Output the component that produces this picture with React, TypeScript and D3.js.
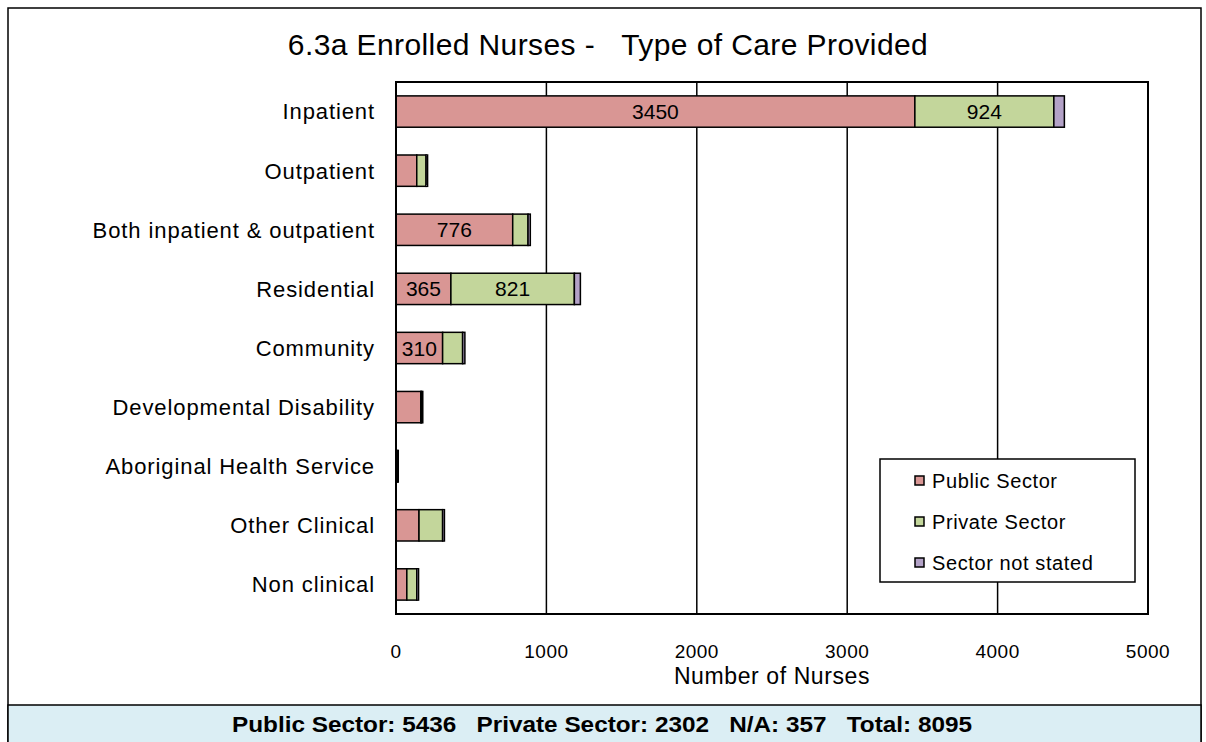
import * as d3 from "d3";

const categories = [
  "Inpatient",
  "Outpatient",
  "Both inpatient & outpatient",
  "Residential",
  "Community",
  "Developmental Disability",
  "Aboriginal Health Service",
  "Other Clinical",
  "Non clinical",
];
const publicSector = [3450, 138, 776, 365, 310, 165, 10, 153, 72];
const privateSector = [924, 62, 102, 821, 133, 5, 3, 157, 66];
const notStated = [70, 10, 15, 40, 15, 8, 2, 12, 12];
const seriesNames = ["Public Sector", "Private Sector", "Sector not stated"];
const xTicks = [0, 1000, 2000, 3000, 4000, 5000];
const footerText = "Public Sector: 5436   Private Sector: 2302   N/A: 357   Total: 8095";
const titleText = "6.3a Enrolled Nurses -   Type of Care Provided";

const colors = ["#d99694", "#c3d69b", "#b3a2c7"];
const font = "Arial, 'Liberation Sans', sans-serif";

const W = 1206;
const H = 742;
const plot = { left: 396, right: 1148, top: 82, bottom: 614 };

// keep runs of spaces visible in svg text
const keepSpaces = (s: string) => s.replace(/ {2,}/g, (m) => "\u00a0".repeat(m.length));

export default function App() {
  const x = d3.scaleLinear().domain([0, 5000]).range([plot.left, plot.right]);
  const y = d3
    .scaleBand<string>()
    .domain(categories)
    .range([plot.top, plot.bottom])
    .paddingInner(0.47)
    .paddingOuter(0.235);

  const rows = categories.map((c, i) => ({
    cat: c,
    vals: [publicSector[i], privateSector[i], notStated[i]],
  }));
  const stack = d3
    .stack<{ cat: string; vals: number[] }, number>()
    .keys([0, 1, 2])
    .value((d, k) => d.vals[k]);
  const layers = stack(rows);

  return (
    <svg
      width={W}
      height={H}
      style={{ position: "absolute", left: 0, top: 0, display: "block" }}
      fontFamily={font}
    >
      <rect x={0} y={0} width={W} height={H} fill="#fff" />
      {/* outer frame */}
      <rect x={8} y={8} width={1193} height={760} fill="none" stroke="#000" strokeWidth={1.5} />
      <rect x={8} y={705} width={1193} height={50} fill="#dbeef4" stroke="#000" strokeWidth={1.5} />
      <text
        x={602}
        y={732}
        textAnchor="middle"
        fontSize={22}
        fontWeight="bold"
        fill="#000"
        textLength={740}
        lengthAdjust="spacingAndGlyphs"
      >
        {keepSpaces(footerText)}
      </text>

      <text x={608} y={55} textAnchor="middle" fontSize={30} letterSpacing={0.4} fill="#000">
        {keepSpaces(titleText)}
      </text>

      {/* gridlines */}
      {xTicks.slice(1, -1).map((t) => (
        <line key={t} x1={x(t)} x2={x(t)} y1={plot.top} y2={plot.bottom} stroke="#000" strokeWidth={1.5} />
      ))}

      {/* bars */}
      {layers.map((layer, li) => (
        <g key={li}>
          {layer.map((d, i) => (
            <rect
              key={i}
              x={x(d[0])}
              y={y(categories[i])}
              width={Math.max(0, x(d[1]) - x(d[0]))}
              height={y.bandwidth()}
              fill={colors[li]}
              stroke="#000"
              strokeWidth={1.5}
            />
          ))}
        </g>
      ))}

      {/* data labels */}
      {layers.map((layer, li) =>
        layer.map((d, i) => {
          const v = d[1] - d[0];
          if (v < 300) return null;
          return (
            <text
              key={`${li}-${i}`}
              x={(x(d[0]) + x(d[1])) / 2}
              y={(y(categories[i]) ?? 0) + y.bandwidth() / 2}
              dy="0.36em"
              textAnchor="middle"
              fontSize={21}
              fill="#000"
            >
              {v}
            </text>
          );
        })
      )}

      {/* plot border */}
      <rect
        x={plot.left}
        y={plot.top}
        width={plot.right - plot.left}
        height={plot.bottom - plot.top}
        fill="none"
        stroke="#000"
        strokeWidth={2}
      />

      {/* category labels */}
      {categories.map((c) => (
        <text
          key={c}
          x={plot.left - 21}
          y={(y(c) ?? 0) + y.bandwidth() / 2}
          dy="0.36em"
          textAnchor="end"
          fontSize={22}
          letterSpacing={0.9}
          fill="#000"
        >
          {c}
        </text>
      ))}

      {/* x tick labels */}
      {xTicks.map((t) => (
        <text key={t} x={x(t)} y={658} textAnchor="middle" fontSize={19} letterSpacing={0.5} fill="#000">
          {t}
        </text>
      ))}
      <text
        x={(plot.left + plot.right) / 2}
        y={684}
        textAnchor="middle"
        fontSize={23}
        letterSpacing={0.6}
        fill="#000"
      >
        Number of Nurses
      </text>

      {/* legend */}
      <rect x={880} y={459} width={255} height={123} fill="#fff" stroke="#000" strokeWidth={1.5} />
      {seriesNames.map((s, i) => {
        const cy = 481 + i * 41;
        return (
          <g key={s}>
            <rect x={915} y={cy - 5} width={9} height={9} fill={colors[i]} stroke="#000" strokeWidth={1.5} />
            <text x={932} y={cy} dy="0.36em" fontSize={20} letterSpacing={0.6} fill="#000">
              {s}
            </text>
          </g>
        );
      })}
    </svg>
  );
}
